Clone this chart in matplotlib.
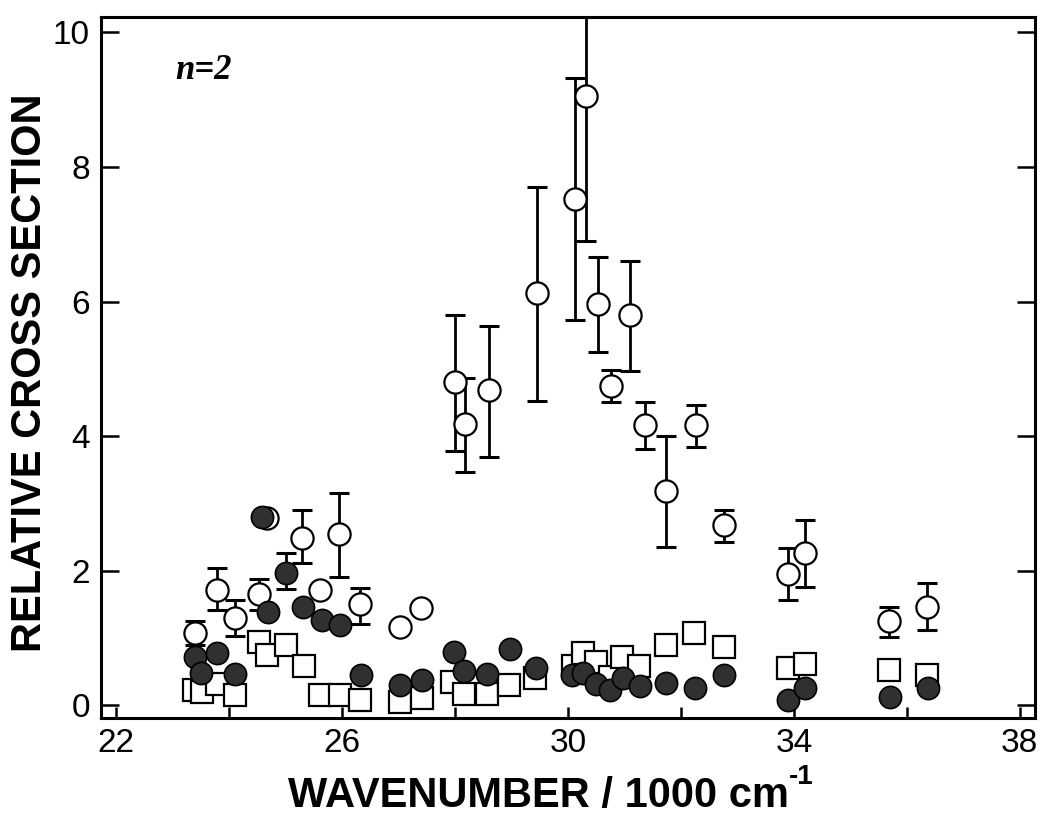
import matplotlib
matplotlib.use("Agg")
import matplotlib.pyplot as plt
from matplotlib.ticker import MultipleLocator
import numpy as np

# Open circles (with error bars): x, y, lower, upper
open_x = [23.40, 23.78, 24.11, 24.53, 24.67, 25.29, 25.61, 25.95, 26.32, 27.03, 27.40,
          28.00, 28.18, 28.60, 29.46, 30.13, 30.32, 30.54, 30.76, 31.10, 31.37, 31.74,
          32.26, 32.77, 33.89, 34.19, 35.69, 36.35]
open_y = [1.07, 1.71, 1.29, 1.65, 2.78, 2.49, 1.71, 2.54, 1.50, 1.16, 1.44,
          4.80, 4.18, 4.68, 6.12, 7.52, 9.06, 5.96, 4.74, 5.80, 4.17, 3.18,
          4.16, 2.68, 1.95, 2.27, 1.25, 1.46]
open_lo = [0.89, 1.41, 1.03, 1.42, 2.78, 2.11, 1.71, 1.91, 1.20, 1.16, 1.44,
           3.78, 3.47, 3.69, 4.52, 5.72, 6.90, 5.25, 4.51, 4.97, 3.81, 2.35,
           3.84, 2.42, 1.56, 1.75, 1.02, 1.12]
open_hi = [1.25, 2.04, 1.56, 1.88, 2.78, 2.90, 1.71, 3.16, 1.74, 1.16, 1.44,
           5.80, 4.87, 5.64, 7.71, 9.32, 11.5, 6.66, 4.98, 6.61, 4.50, 4.00,
           4.46, 2.90, 2.34, 2.76, 1.46, 1.82]

# Filled circles
filled_x = [24.58, 25.01, 24.68, 25.30, 25.64, 25.97, 23.40, 23.78, 23.50, 24.11, 26.34,
            27.03, 27.42, 27.98, 28.16, 28.56, 28.98, 29.44, 30.07, 30.27, 30.50, 30.75,
            30.98, 31.28, 31.74, 32.25, 32.77, 33.89, 34.19, 35.70, 36.37]
filled_y = [2.80, 1.97, 1.39, 1.46, 1.27, 1.19, 0.72, 0.77, 0.48, 0.47, 0.45,
            0.30, 0.37, 0.79, 0.51, 0.47, 0.83, 0.55, 0.45, 0.48, 0.32, 0.22,
            0.40, 0.28, 0.33, 0.25, 0.45, 0.08, 0.25, 0.12, 0.25]
filled_err_x = [25.01]
filled_err_y = [1.97]
filled_err_lo = [1.73]
filled_err_hi = [2.26]

# Open squares
sq_x = [23.37, 23.52, 23.78, 24.11, 24.52, 24.67, 25.00, 25.33, 25.61, 25.97, 26.32,
        27.03, 27.41, 27.95, 28.15, 28.57, 28.95, 29.42, 30.08, 30.26, 30.50, 30.75,
        30.96, 31.25, 31.73, 32.24, 32.77, 33.89, 34.19, 35.69, 36.35]
sq_y = [0.23, 0.19, 0.31, 0.15, 0.94, 0.74, 0.89, 0.58, 0.15, 0.15, 0.08,
        0.05, 0.10, 0.35, 0.17, 0.17, 0.30, 0.40, 0.58, 0.77, 0.64, 0.42,
        0.71, 0.59, 0.90, 1.07, 0.87, 0.55, 0.62, 0.53, 0.45]

x_ticks = [22, 26, 30, 34, 38]
y_ticks = [0, 2, 4, 6, 8, 10]

fig = plt.figure(figsize=(10.42, 8.25), dpi=100)
ax = fig.add_axes([0.0969, 0.1297, 0.8964, 0.8497])

oy = np.array(open_y)
yerr = [oy - np.array(open_lo), np.array(open_hi) - oy]
ax.errorbar(open_x, open_y, yerr=yerr, fmt='none', ecolor='black',
            elinewidth=2.0, capsize=7, capthick=2.2, zorder=2)
ax.plot(open_x, open_y, 'o', ms=16, mfc='white', mec='black', mew=1.6,
        linestyle='none', zorder=3)

ax.plot(sq_x, sq_y, 's', ms=16, mfc='white', mec='black', mew=1.6,
        linestyle='none', zorder=4)

fy = np.array(filled_err_y)
ax.errorbar(filled_err_x, filled_err_y,
            yerr=[fy - np.array(filled_err_lo), np.array(filled_err_hi) - fy],
            fmt='none', ecolor='black', elinewidth=2.0, capsize=7, capthick=2.2, zorder=5)
ax.plot(filled_x, filled_y, 'o', ms=16, mfc='#303030', mec='black', mew=1.2,
        linestyle='none', zorder=6)

ax.set_xlim(21.73, 38.27)
ax.set_ylim(-0.19, 10.23)
ax.set_xticks(x_ticks)
ax.xaxis.set_minor_locator(MultipleLocator(2))
ax.set_yticks(y_ticks)

for s in ax.spines.values():
    s.set_linewidth(2.2)

ax.tick_params(axis='x', which='both', direction='in', length=8, width=1.8,
               labelsize=24, pad=7, top=False)
ax.tick_params(axis='y', which='both', direction='in', length=13, width=1.8,
               labelsize=24, pad=8, right=True)
for lab in ax.get_xticklabels() + ax.get_yticklabels():
    lab.set_fontfamily('Liberation Sans')

ax.text(23.04, 9.44, 'n=2', fontfamily='Liberation Serif', fontstyle='italic',
        fontweight='bold', fontsize=25, ha='left', va='center')

fig.text(0.2764, 0.0218, 'WAVENUMBER / 1000 cm', fontfamily='Liberation Sans',
         fontweight='bold', fontsize=30, ha='left', va='baseline')
fig.text(0.757, 0.050, '-1', fontfamily='Liberation Sans',
         fontweight='bold', fontsize=20, ha='left', va='baseline')
fig.text(0.0288, 0.5485, 'RELATIVE CROSS SECTION', fontfamily='Liberation Sans',
         fontweight='bold', fontsize=30, ha='center', va='center', rotation=90)

fig.savefig('out.png', dpi=100)
